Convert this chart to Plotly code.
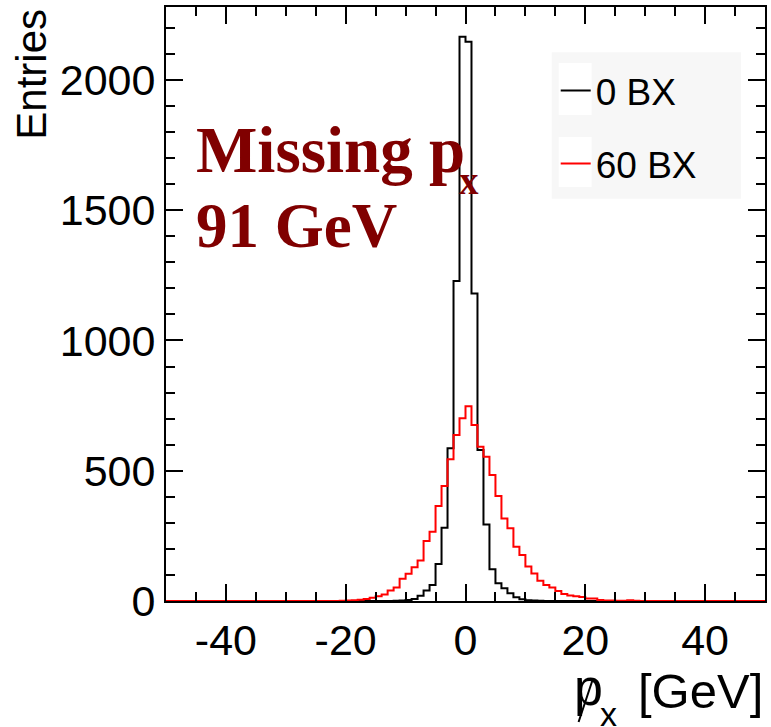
import plotly.graph_objects as go

# 1 GeV bins from -50 to 50
bin_edges = list(range(-50, 51))

counts_0bx = [
    0, 0, 0, 0, 0, 0, 0, 0, 0, 0,
    0, 0, 0, 0, 0, 0, 0, 0, 0, 0,
    0, 0, 0, 0, 0, 0, 0, 0, 0, 0,
    0, 0, 0, 0, 0, 0, 0, 0, 1, 2,
    4, 8, 20, 40, 61, 142, 281, 586, 1228, 2166,
    2147, 1180, 580, 294, 122, 68, 49, 30, 14, 7,
    3, 2, 1, 0, 0, 0, 0, 0, 0, 0,
    0, 0, 0, 0, 0, 0, 0, 0, 0, 0,
    0, 0, 0, 0, 0, 0, 0, 0, 0, 0,
    0, 0, 0, 0, 0, 0, 0, 0, 0, 0,
]

counts_60bx = [
    0, 0, 0, 0, 0, 0, 0, 0, 0, 0,
    0, 0, 0, 0, 0, 0, 0, 0, 0, 0,
    0, 0, 0, 0, 0, 0, 0, 0, 0, 1,
    2, 3, 5, 8, 12, 18, 25, 40, 52, 85,
    105, 130, 155, 230, 266, 365, 441, 544, 637, 701,
    748, 676, 592, 554, 484, 403, 317, 279, 208, 177,
    132, 106, 78, 61, 52, 38, 27, 21, 18, 15,
    10, 10, 4, 2, 2, 1, 1, 3, 1, 0,
    0, 0, 0, 0, 0, 0, 0, 0, 0, 0,
    0, 0, 0, 0, 0, 0, 0, 0, 0, 0,
]

series_names = ["0 BX", "60 BX"]
series_colors = ["#000000", "#ff0000"]
x_ticks = [-40, -20, 0, 20, 40]
x_tick_text = ["-40", "-20", "0", "20", "40"]
y_ticks = [0, 500, 1000, 1500, 2000]

SANS = "Liberation Sans, Arial, Helvetica, sans-serif"
SERIF = "Liberation Serif, Times New Roman, serif"

fig = go.Figure()
for i, (name, counts, col) in enumerate(zip(series_names, [counts_0bx, counts_60bx], series_colors)):
    fig.add_trace(go.Scatter(
        x=bin_edges, y=counts + [counts[-1]],
        mode="lines", line=dict(shape="hv", color=col, width=2),
        name=name, legendgroup=f"g{i}",
    ))

axis_common = dict(
    showgrid=False, zeroline=False, showline=True, linecolor="black", linewidth=2,
    mirror="allticks", ticks="inside", tickcolor="black", tickwidth=2,
    tickfont=dict(family=SANS, size=43, color="black"),
)

fig.update_xaxes(
    range=[-50, 50], tickvals=x_ticks, ticktext=x_tick_text, ticklen=17,
    minor=dict(dtick=5, tick0=0, ticks="inside", ticklen=9, tickcolor="black", tickwidth=2),
    **axis_common,
)
fig.update_yaxes(
    range=[0, 2280], tickvals=y_ticks, ticklen=17,
    minor=dict(dtick=100, tick0=0, ticks="inside", ticklen=9, tickcolor="black", tickwidth=2),
    **axis_common,
)

fig.update_layout(
    width=771, height=727,
    margin=dict(l=166, r=4, t=7, b=126),
    paper_bgcolor="white", plot_bgcolor="white",
    showlegend=True,
    legend=dict(
        x=0.6506, y=0.911, xanchor="left", yanchor="top",
        bgcolor="rgba(0,0,0,0)", font=dict(family=SANS, size=37, color="black"),
        tracegroupgap=22, itemwidth=30,
    ),
)

# Legend background box and sample boxes
fig.add_shape(type="rect", xref="paper", yref="paper", x0=0.644, x1=0.960, y0=0.677, y1=0.924,
              fillcolor="#f7f7f7", line=dict(width=0), layer="below")
fig.add_shape(type="rect", xref="paper", yref="paper", x0=0.6556, x1=0.7105, y0=0.818, y1=0.9057,
              fillcolor="white", line=dict(width=0), layer="below")
fig.add_shape(type="rect", xref="paper", yref="paper", x0=0.6556, x1=0.7105, y0=0.697, y1=0.781,
              fillcolor="white", line=dict(width=0), layer="below")

# Header text
fig.add_annotation(text="<b>Missing p</b>", xref="paper", yref="paper",
                   x=0.046, y=0.7588, xanchor="left", yanchor="middle", showarrow=False,
                   font=dict(family=SERIF, size=65, color="#800000"))
fig.add_annotation(text="<b>x</b>", xref="paper", yref="paper",
                   x=0.486, y=0.708, xanchor="left", yanchor="middle", showarrow=False,
                   font=dict(family=SERIF, size=39, color="#800000"))
fig.add_annotation(text="<b>91 GeV</b>", xref="paper", yref="paper",
                   x=0.046, y=0.632, xanchor="left", yanchor="middle", showarrow=False,
                   font=dict(family=SERIF, size=63, color="#800000"))

# Axis titles
fig.add_annotation(text="Entries", xref="paper", yref="paper",
                   x=-0.225, y=1.0, xanchor="center", yanchor="top", textangle=-90,
                   showarrow=False, font=dict(family=SANS, size=42, color="black"))
fig.add_annotation(text="[GeV]", xref="paper", yref="paper",
                   x=1.0, y=-0.1515, xanchor="right", yanchor="middle",
                   showarrow=False, font=dict(family=SANS, size=49, color="black"))
fig.add_annotation(text="p", xref="paper", yref="paper",
                   x=0.6772, y=-0.1448, xanchor="left", yanchor="middle",
                   showarrow=False, font=dict(family=SANS, size=52, color="black"))
fig.add_annotation(text="x", xref="paper", yref="paper",
                   x=0.7205, y=-0.190, xanchor="left", yanchor="middle",
                   showarrow=False, font=dict(family=SANS, size=34, color="black"))
fig.add_shape(type="line", xref="paper", yref="paper", x0=0.6888, y0=-0.2037, x1=0.7121, y1=-0.133,
              line=dict(color="black", width=2))

fig.write_html("out.html")
